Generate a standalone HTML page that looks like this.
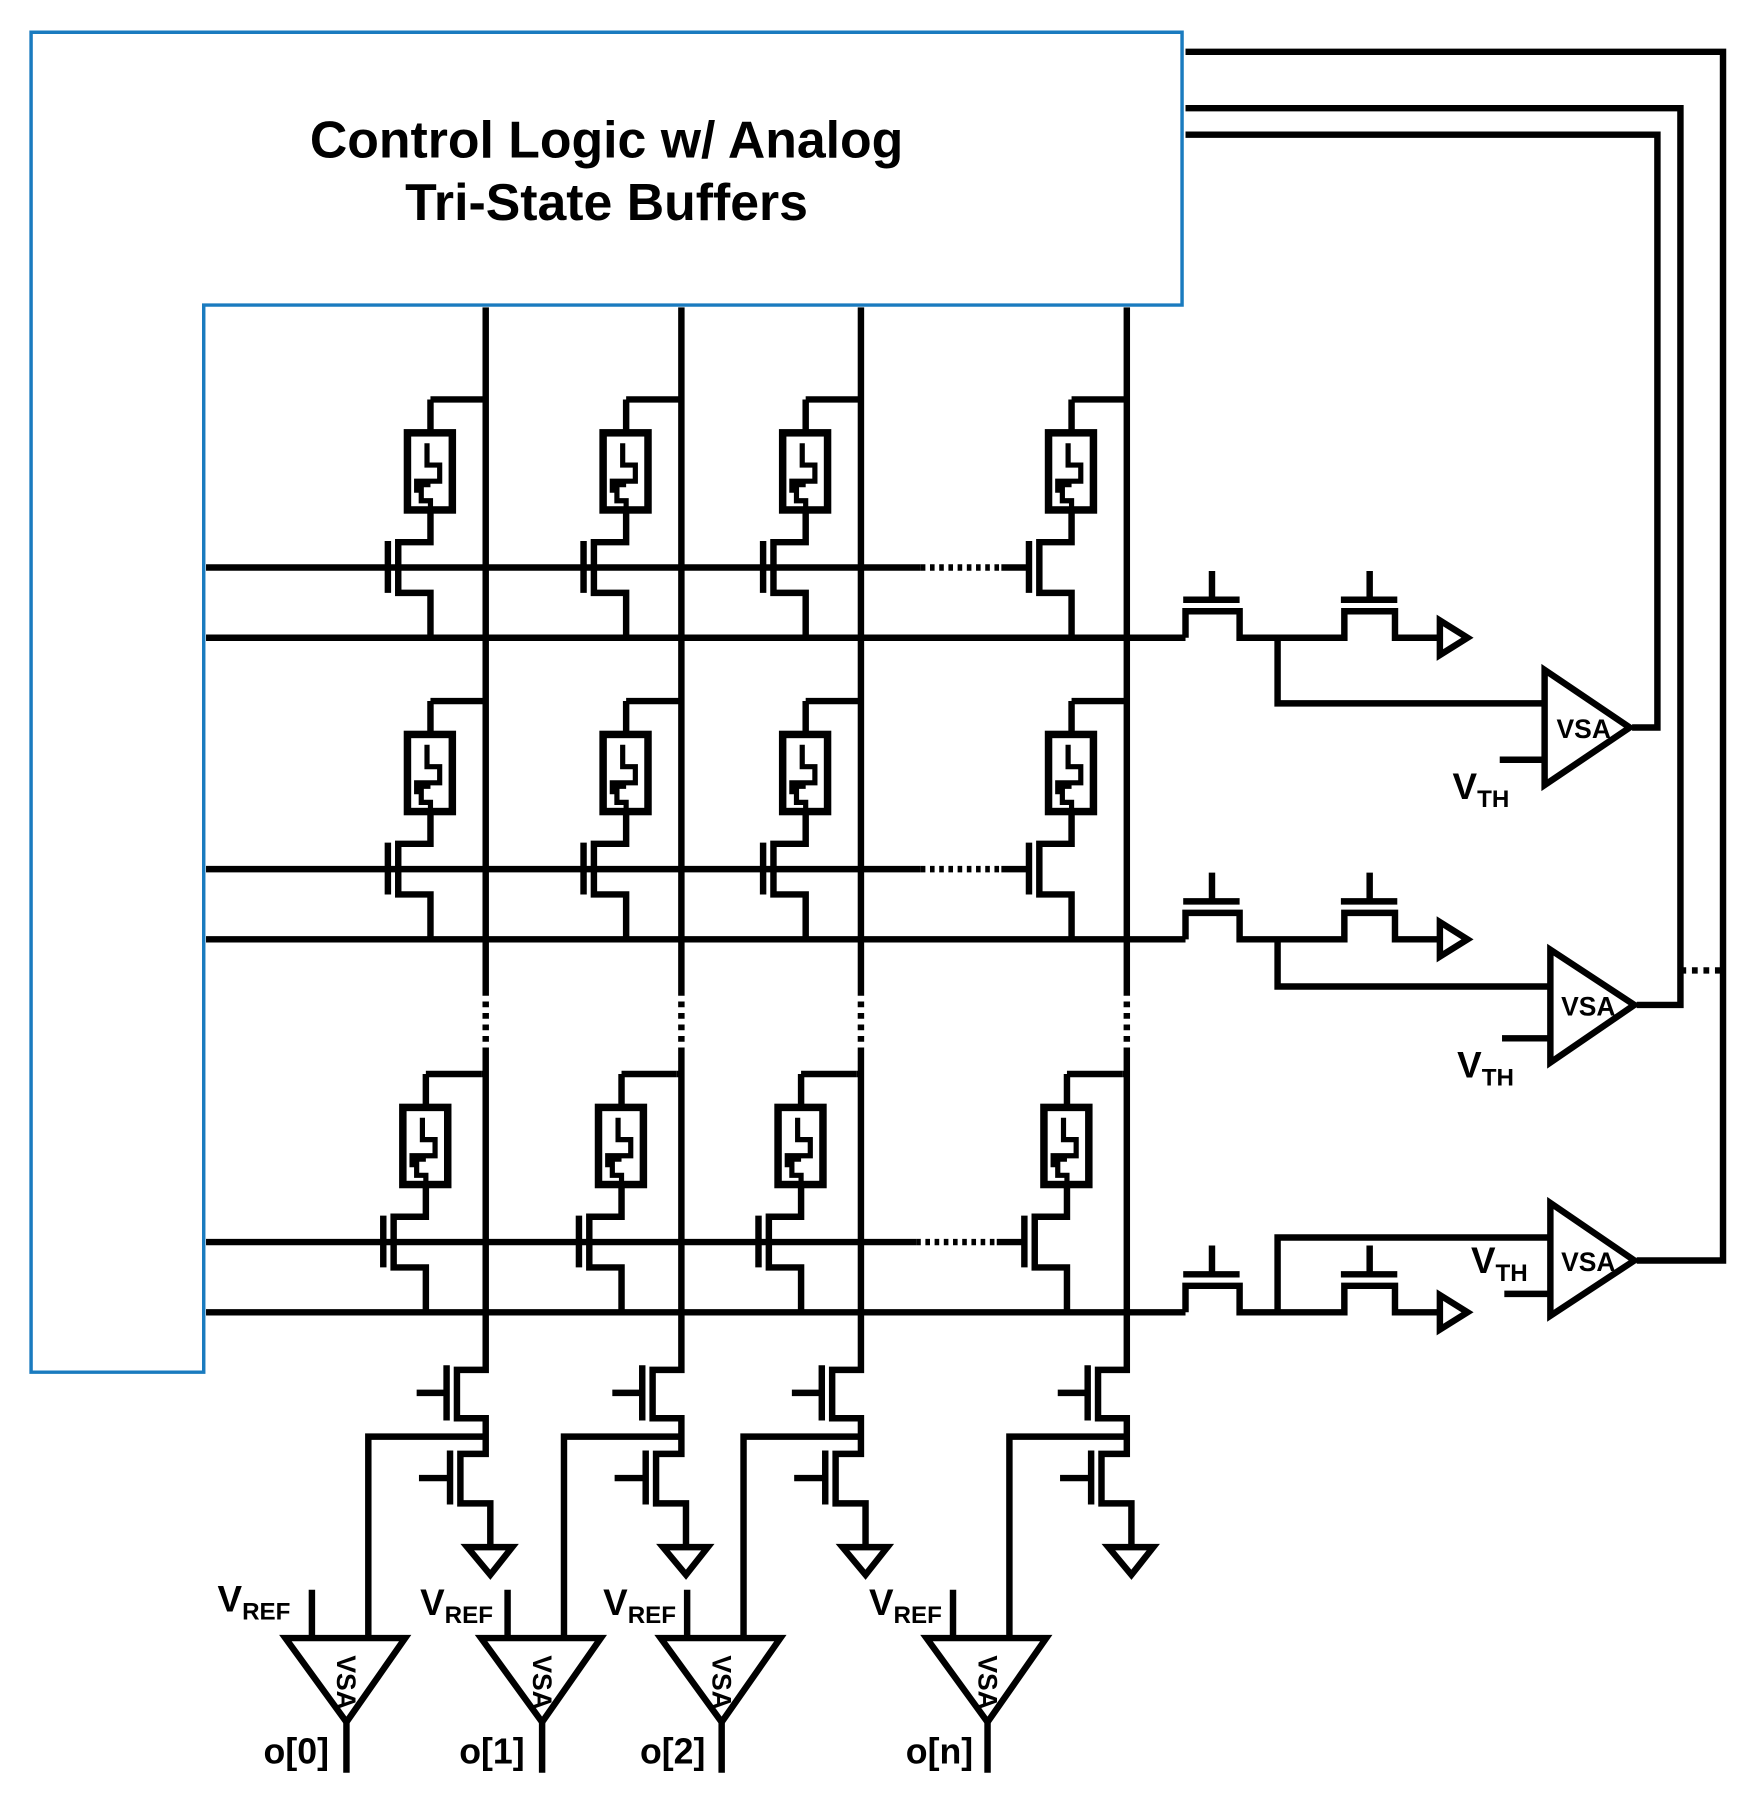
<!DOCTYPE html>
<html><head><meta charset="utf-8"><style>
html,body{margin:0;padding:0;background:#fff;}
svg{display:block;}
text{font-family:"Liberation Sans",Arial,sans-serif;fill:#000;}
</style></head><body>
<svg width="1761" height="1805" viewBox="0 0 1530 1568" preserveAspectRatio="none" xmlns="http://www.w3.org/2000/svg">
<defs>
<g id="cell" fill="none" stroke="#000" stroke-width="5.6">
  <path d="M-48,-146 H0 M-48,-146 V-117 M-48,-50 V-22 H-76 V22 H-48 V61 M-85,-23 V22"/>
  <rect x="-68" y="-117" width="39" height="67" stroke-width="6.5"/>
  <path d="M-51,-108 V-89 H-40 V-75 H-60 V-65 M-48,-72 H-56 V-58 H-48 V-52" stroke-width="4.5"/>
</g>
<g id="rt" fill="none" stroke="#000" stroke-width="5.6">
  <path d="M1030,0 V-23 H1077 V0 H1168 V-23 H1212 V0 H1250"/>
  <path d="M1028,-33 H1077 M1053,-33 V-58 M1165,-33 H1214 M1190,-33 V-58"/>
  <polygon points="1251,-15 1251,15 1275,0"/>
</g>
<g id="bot" fill="none" stroke="#000" stroke-width="5.6">
  <path d="M0,910 V1190 H-25 V1232 H0 V1263 H-22 V1306 H4 V1344"/>
  <path d="M0,1248 H-102 V1423"/>
  <path d="M-34,1186 V1234 M-60,1210 H-34 M-31,1260 V1307 M-58,1284 H-31"/>
  <polygon points="-16,1344 23,1344 4,1368"/>
  <polygon points="-174,1423 -70,1423 -121,1496"/>
  <path d="M-121,1496 V1540 M-151,1381 V1423"/>
  <path d="M0,860 V910" stroke-dasharray="5,5"/>
</g>
</defs>

<polygon points="27,28 1027,28 1027,265 177,265 177,1192 27,1192" fill="none" stroke="#1a7bbf" stroke-width="3"/>
<text x="527" y="137" font-size="45" font-weight="bold" text-anchor="middle">Control Logic w/ Analog</text>
<text x="527" y="191" font-size="45" font-weight="bold" text-anchor="middle">Tri-State Buffers</text>

<g fill="none" stroke="#000" stroke-width="5.6">
  <path d="M422,267 V860 M592,267 V860 M748,267 V860 M979,267 V860"/>
  <path d="M179,493 H800 M870,493 H894 M179,755 H800 M870,755 H894 M179,1079 H796 M866,1079 H890"/>
  <path d="M800,493 H870 M800,755 H870 M796,1079 H866" stroke-dasharray="4,4"/>
  <path d="M179,554 H1030 M179,816 H1030 M179,1140 H1030"/>
  <path d="M1110,554 V611 H1342 M1303,660 H1342 M1418,632 H1440 V117 H1030"/>
  <polygon points="1342,582 1342,682 1416,632"/>
  <path d="M1110,816 V857 H1347 M1305,902 H1347 M1422,873 H1460 V94 H1030"/>
  <polygon points="1347,825 1347,923 1420,873"/>
  <path d="M1460,843 H1497" stroke-dasharray="5,5"/>
  <path d="M1110,1140 V1075 H1347 M1307,1124 H1347 M1422,1095 H1497 V45 H1030"/>
  <polygon points="1347,1045 1347,1143 1420,1095"/>
</g>

<use href="#cell" transform="translate(422,493)"/>
<use href="#cell" transform="translate(592,493)"/>
<use href="#cell" transform="translate(748,493)"/>
<use href="#cell" transform="translate(979,493)"/>
<use href="#cell" transform="translate(422,755)"/>
<use href="#cell" transform="translate(592,755)"/>
<use href="#cell" transform="translate(748,755)"/>
<use href="#cell" transform="translate(979,755)"/>
<use href="#cell" transform="translate(418,1079)"/>
<use href="#cell" transform="translate(588,1079)"/>
<use href="#cell" transform="translate(744,1079)"/>
<use href="#cell" transform="translate(975,1079)"/>
<g stroke="#000" stroke-width="5.6"><path d="M418,933 H422 M588,933 H592 M744,933 H748 M975,933 H979"/></g>

<use href="#rt" transform="translate(0,554)"/>
<use href="#rt" transform="translate(0,816)"/>
<use href="#rt" transform="translate(0,1140)"/>

<use href="#bot" transform="translate(422,0)"/>
<use href="#bot" transform="translate(592,0)"/>
<use href="#bot" transform="translate(748,0)"/>
<use href="#bot" transform="translate(979,0)"/>

<text x="1376" y="641" font-size="23" font-weight="600" text-anchor="middle">VSA</text>
<text x="1380" y="882" font-size="23" font-weight="600" text-anchor="middle">VSA</text>
<text x="1380" y="1104" font-size="23" font-weight="600" text-anchor="middle">VSA</text>
<text x="1262" y="694" font-size="32" font-weight="bold">V<tspan font-size="21" dy="7">TH</tspan></text>
<text x="1266" y="936" font-size="32" font-weight="bold">V<tspan font-size="21" dy="7">TH</tspan></text>
<text x="1278" y="1106" font-size="32" font-weight="bold">V<tspan font-size="21" dy="7">TH</tspan></text>

<text x="189" y="1400" font-size="32" font-weight="bold">V<tspan font-size="21" dy="7">REF</tspan></text>
<text x="365" y="1403" font-size="32" font-weight="bold">V<tspan font-size="21" dy="7">REF</tspan></text>
<text x="524" y="1403" font-size="32" font-weight="bold">V<tspan font-size="21" dy="7">REF</tspan></text>
<text x="755" y="1403" font-size="32" font-weight="bold">V<tspan font-size="21" dy="7">REF</tspan></text>

<text font-size="23" font-weight="600" transform="translate(293,1438) rotate(90)">VSA</text>
<text font-size="23" font-weight="600" transform="translate(463,1438) rotate(90)">VSA</text>
<text font-size="23" font-weight="600" transform="translate(619,1438) rotate(90)">VSA</text>
<text font-size="23" font-weight="600" transform="translate(850,1438) rotate(90)">VSA</text>

<text x="229" y="1532" font-size="31" font-weight="bold">o[0]</text>
<text x="399" y="1532" font-size="31" font-weight="bold">o[1]</text>
<text x="556" y="1532" font-size="31" font-weight="bold">o[2]</text>
<text x="787" y="1532" font-size="31" font-weight="bold">o[n]</text>
</svg>
</body></html>
